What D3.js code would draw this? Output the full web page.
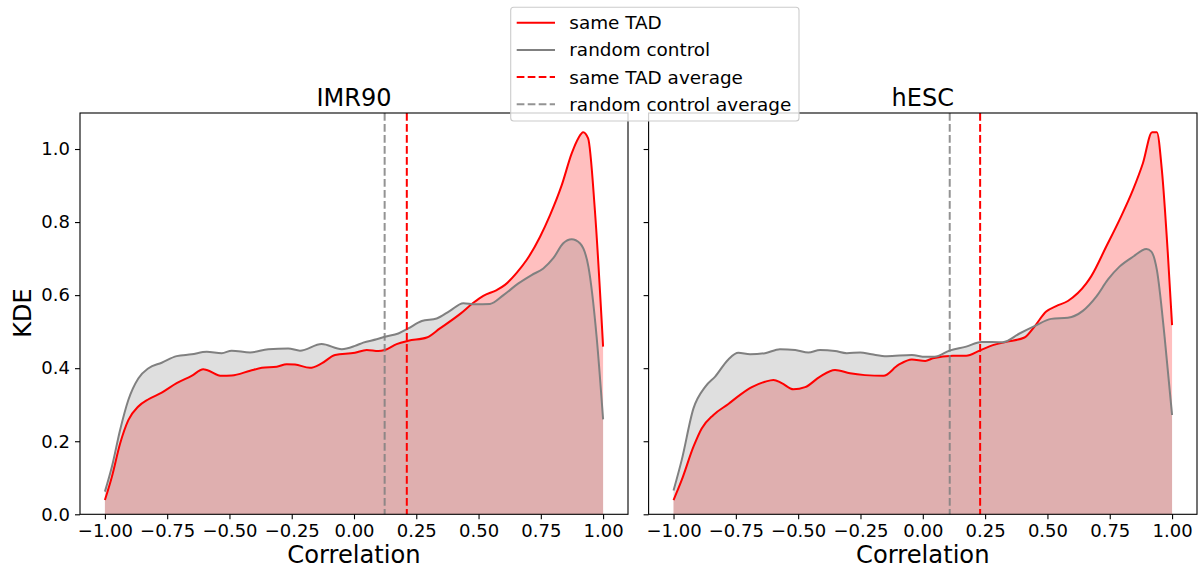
<!DOCTYPE html>
<html><head><meta charset="utf-8">
<script src="https://cdn.jsdelivr.net/npm/d3@7"></script>
<style>body{margin:0;background:#fff}svg{display:block;font-family:"DejaVu Sans",sans-serif}</style>
</head><body><svg id="c" width="1198" height="570"></svg>
<script>
// ---- data ----
const panelTitles = ["IMR90", "hESC"];
const xTicks = [-1.00, -0.75, -0.50, -0.25, 0.00, 0.25, 0.50, 0.75, 1.00];
const yTicks = [0.0, 0.2, 0.4, 0.6, 0.8, 1.0];
const legendLabels = ["same TAD", "random control", "same TAD average", "random control average"];

const imrSameX = [-1.0,-0.972,-0.939,-0.906,-0.866,-0.825,-0.772,-0.712,-0.652,-0.605,-0.591,-0.531,-0.491,-0.417,-0.370,-0.310,-0.270,-0.237,-0.177,-0.130,-0.076,0.004,0.051,0.098,0.124,0.171,0.218,0.292,0.345,0.425,0.479,0.519,0.573,0.606,0.653,0.693,0.747,0.787,0.834,0.874,0.900,0.920,0.940,0.967,1.0];
const imrSameY = [0.039,0.103,0.194,0.258,0.295,0.315,0.333,0.359,0.379,0.397,0.395,0.379,0.380,0.393,0.401,0.404,0.411,0.410,0.401,0.413,0.436,0.442,0.450,0.447,0.450,0.466,0.475,0.484,0.509,0.548,0.579,0.598,0.614,0.628,0.661,0.696,0.760,0.819,0.901,0.988,1.029,1.046,1.029,0.833,0.459];

const imrCtrlX = [-1.0,-0.972,-0.939,-0.906,-0.866,-0.825,-0.772,-0.712,-0.652,-0.591,-0.531,-0.491,-0.417,-0.344,-0.264,-0.217,-0.130,-0.049,0.004,0.037,0.091,0.124,0.178,0.218,0.272,0.332,0.385,0.439,0.486,0.546,0.600,0.660,0.713,0.760,0.800,0.840,0.874,0.907,0.941,0.974,1.0];
const imrCtrlY = [0.062,0.130,0.231,0.313,0.372,0.400,0.415,0.433,0.438,0.445,0.441,0.448,0.443,0.452,0.454,0.448,0.466,0.452,0.461,0.470,0.479,0.486,0.495,0.509,0.529,0.536,0.557,0.578,0.575,0.576,0.600,0.632,0.655,0.673,0.701,0.742,0.753,0.742,0.678,0.486,0.260];

const hescSameX = [-1.0,-0.967,-0.920,-0.887,-0.840,-0.780,-0.733,-0.686,-0.633,-0.599,-0.566,-0.519,-0.472,-0.412,-0.352,-0.292,-0.232,-0.158,-0.098,-0.044,0.010,0.040,0.121,0.174,0.228,0.281,0.335,0.408,0.448,0.495,0.535,0.582,0.656,0.676,0.736,0.789,0.843,0.883,0.920,0.939,0.959,0.983,1.0];
const hescSameY = [0.039,0.094,0.185,0.235,0.272,0.302,0.327,0.348,0.363,0.368,0.359,0.342,0.348,0.377,0.395,0.386,0.381,0.379,0.409,0.424,0.420,0.427,0.434,0.434,0.448,0.463,0.472,0.484,0.514,0.555,0.570,0.584,0.632,0.652,0.733,0.806,0.888,0.961,1.046,1.046,0.943,0.714,0.518];

const hescCtrlX = [-1.0,-0.967,-0.920,-0.873,-0.833,-0.780,-0.740,-0.693,-0.633,-0.573,-0.512,-0.459,-0.412,-0.352,-0.305,-0.251,-0.205,-0.144,-0.044,0.010,0.047,0.107,0.174,0.234,0.321,0.388,0.448,0.515,0.582,0.642,0.696,0.743,0.789,0.843,0.897,0.917,0.939,0.970,1.0];
const hescCtrlY = [0.065,0.149,0.290,0.349,0.377,0.424,0.442,0.438,0.441,0.452,0.450,0.443,0.450,0.447,0.441,0.443,0.438,0.433,0.436,0.431,0.431,0.448,0.459,0.472,0.471,0.495,0.515,0.535,0.538,0.557,0.596,0.643,0.678,0.705,0.726,0.719,0.669,0.486,0.272];

const sameMeans = [0.212, 0.230];
const ctrlMeans = [0.123, 0.108];

// ---- drawing ----
const svg = d3.select("#c");
const RED = "#ff0000", GRAY = "#808080";
const yScale = d3.scaleLinear().domain([0, 1.0986]).range([514.3, 113]);
const panels = [
  {x0: 80, x1: 628, same: [imrSameX, imrSameY], ctrl: [imrCtrlX, imrCtrlY], labels: true},
  {x0: 648.6, x1: 1197, same: [hescSameX, hescSameY], ctrl: [hescCtrlX, hescCtrlY], labels: false}
];
const zip = (xs, ys) => xs.map((x, i) => [x, ys[i]]);

panels.forEach((p, i) => {
  const x = d3.scaleLinear().domain([-1.1, 1.1]).range([p.x0, p.x1]);
  const g = svg.append("g");
  const area = d3.area().x(d => x(d[0])).y0(yScale(0)).y1(d => yScale(d[1])).curve(d3.curveMonotoneX);
  const line = d3.line().x(d => x(d[0])).y(d => yScale(d[1])).curve(d3.curveMonotoneX);
  const sd = zip(p.same[0], p.same[1]);
  const cd = zip(p.ctrl[0], p.ctrl[1]);
  g.append("path").attr("d", area(sd)).attr("fill", RED).attr("fill-opacity", 0.25);
  g.append("path").attr("d", area(cd)).attr("fill", GRAY).attr("fill-opacity", 0.25);
  g.append("path").attr("d", line(sd)).attr("fill", "none").attr("stroke", RED).attr("stroke-width", 2);
  g.append("path").attr("d", line(cd)).attr("fill", "none").attr("stroke", GRAY).attr("stroke-width", 2);
  // mean lines
  g.append("line").attr("x1", x(ctrlMeans[i])).attr("x2", x(ctrlMeans[i])).attr("y1", 113).attr("y2", 514.3)
    .attr("stroke", GRAY).attr("stroke-opacity", 0.85).attr("stroke-width", 2).attr("stroke-dasharray", "7.7,3.3");
  g.append("line").attr("x1", x(sameMeans[i])).attr("x2", x(sameMeans[i])).attr("y1", 113).attr("y2", 514.3)
    .attr("stroke", RED).attr("stroke-width", 2).attr("stroke-dasharray", "7.7,3.3");
  // frame
  g.append("rect").attr("x", p.x0).attr("y", 113).attr("width", p.x1 - p.x0).attr("height", 514.3 - 113)
    .attr("fill", "none").attr("stroke", "#000").attr("stroke-width", 1.1);
  // axes
  const xa = g.append("g").attr("transform", `translate(0,${514.3})`)
    .call(d3.axisBottom(x).tickValues(xTicks).tickSize(5).tickPadding(5).tickFormat(d => d3.format(".2f")(d).replace("-", "\u2212")));
  xa.select(".domain").remove();
  xa.selectAll("line").attr("stroke", "#000").attr("stroke-width", 1.1);
  xa.selectAll("text").attr("font-size", 18).attr("fill", "#000").attr("font-family", "DejaVu Sans");
  const ya = g.append("g").attr("transform", `translate(${p.x0},0)`)
    .call(d3.axisLeft(yScale).tickValues(yTicks).tickSize(5).tickPadding(5).tickFormat(p.labels ? d3.format(".1f") : () => ""));
  ya.select(".domain").remove();
  ya.selectAll("line").attr("stroke", "#000").attr("stroke-width", 1.1);
  ya.selectAll("text").attr("font-size", 18).attr("fill", "#000").attr("font-family", "DejaVu Sans");
  // titles
  g.append("text").attr("x", (p.x0 + p.x1) / 2).attr("y", 106).attr("text-anchor", "middle")
    .attr("font-size", 24).text(panelTitles[i]);
  g.append("text").attr("x", x(0)).attr("y", 563).attr("text-anchor", "middle")
    .attr("font-size", 24.2).text("Correlation");
});
svg.append("text").attr("transform", "translate(31,313) rotate(-90)").attr("text-anchor", "middle")
  .attr("font-size", 24).text("KDE");

// legend
const lg = svg.append("g");
lg.append("rect").attr("x", 510.7).attr("y", 7.3).attr("width", 288.3).attr("height", 113.7).attr("rx", 3)
  .attr("fill", "#fff").attr("fill-opacity", 0.8).attr("stroke", "#cccccc").attr("stroke-width", 1.1);
const lgStyles = [[RED, null], [GRAY, null], [RED, "7.7,3.3"], [GRAY, "7.7,3.3"]];
legendLabels.forEach((t, k) => {
  const cy = 22.7 + k * 27.2;
  lg.append("line").attr("x1", 516.7).attr("x2", 555).attr("y1", cy).attr("y2", cy)
    .attr("stroke", lgStyles[k][0]).attr("stroke-opacity", k === 3 ? 0.85 : 1)
    .attr("stroke-width", 2).attr("stroke-dasharray", lgStyles[k][1]);
  lg.append("text").attr("x", 569.3).attr("y", cy).attr("dy", "0.35em").attr("font-size", 18.4).text(t);
});
</script></body></html>
